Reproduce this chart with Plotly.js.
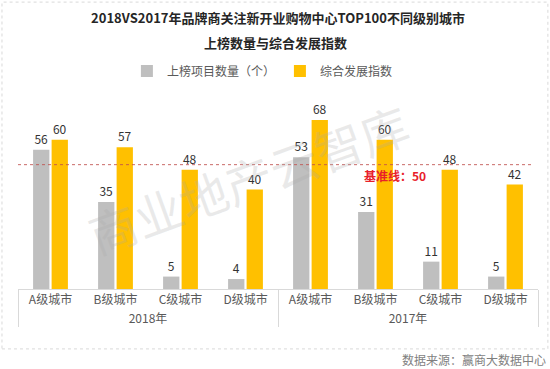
<!DOCTYPE html>
<html>
<head>
<meta charset="utf-8">
<script src="https://cdn.plot.ly/plotly-3.0.1.min.js"></script>
<style>
html,body{margin:0;padding:0;background:#fff;}
#chart{width:550px;height:369px;}
</style>
</head>
<body>
<div id="chart"></div>
<script>
const years = ["2018年","2018年","2018年","2018年","2017年","2017年","2017年","2017年"];
const cities = ["A级城市","B级城市","C级城市","D级城市","A级城市","B级城市","C级城市","D级城市"];
const projectCount = [56, 35, 5, 4, 53, 31, 11, 5];
const devIndex = [60, 57, 48, 40, 68, 60, 48, 42];
const baselineValue = 50;
const seriesNames = ["上榜项目数量（个）", "综合发展指数"];
const titleLines = ["2018VS2017年品牌商关注新开业购物中心TOP100不同级别城市", "上榜数量与综合发展指数"];

const font = "'Noto Sans CJK SC', 'Noto Sans', sans-serif";

const traces = [
  {
    type: 'bar', name: seriesNames[0], x: [years, cities], y: projectCount,
    marker: {color: '#BFBFBF'},
    text: projectCount.map(String), textposition: 'outside',
    textfont: {size: 12, color: '#333333', family: font},
    cliponaxis: false
  },
  {
    type: 'bar', name: seriesNames[1], x: [years, cities], y: devIndex,
    marker: {color: '#FFC000'},
    text: devIndex.map(String), textposition: 'outside',
    textfont: {size: 12, color: '#333333', family: font},
    cliponaxis: false
  }
];

const layout = {
  width: 550, height: 369,
  margin: {l: 18, r: 12, t: 100, b: 80},
  paper_bgcolor: '#ffffff', plot_bgcolor: '#ffffff',
  font: {family: font, color: '#595959', size: 12},
  title: {
    text: '<b>' + titleLines[0] + '</b>',
    font: {size: 13, color: '#262626', family: font},
    x: 0.5, xanchor: 'center', xref: 'paper', y: 1 - 18/369, yanchor: 'middle'
  },
  barmode: 'group', bargap: 0.43, bargroupgap: 0.12,
  showlegend: true,
  legend: {orientation: 'h', x: 0.47, xanchor: 'center', y: 1.153, yanchor: 'middle',
           font: {size: 12, color: '#595959'}, itemwidth: 30},
  xaxis: {
    type: 'multicategory', showline: true, linecolor: '#D9D9D9', linewidth: 1,
    showgrid: false, ticks: 'outside', ticklen: 8, tickcolor: 'rgba(0,0,0,0)',
    dividercolor: '#D9D9D9', dividerwidth: 1,
    tickfont: {size: 12, color: '#595959'}
  },
  yaxis: {range: [0, 76], visible: false, showgrid: false, zeroline: false},
  shapes: [
    {type: 'line', xref: 'paper', yref: 'y', x0: 0, x1: 0.99, y0: baselineValue, y1: baselineValue,
     line: {color: 'rgba(192,80,77,0.85)', width: 1, dash: 'dot'}},
    {type: 'rect', xref: 'paper', yref: 'paper', x0: -0.0308, x1: 1.019, y0: -0.317, y1: 1.518,
     line: {color: '#D9D9D9', width: 1, dash: 'dot'}, layer: 'below'}
  ],
  annotations: [
    {text: '<b>' + titleLines[1] + '</b>', xref: 'paper', yref: 'paper', x: (275-18)/520, y: (289-43)/189,
     xanchor: 'center', yanchor: 'middle', showarrow: false, font: {size: 13, color: '#262626'}},
    {text: '商业地产云智库', xref: 'paper', yref: 'paper', x: (248-18)/520, y: (289-178)/189,
     xanchor: 'center', yanchor: 'middle',
     showarrow: false, textangle: -20, font: {size: 48, color: 'rgba(170,170,170,0.25)', family: "'Noto Sans CJK SC'"}},
    {text: '<b>基准线：' + baselineValue + '</b>', xref: 'paper', yref: 'y', x: (395-18)/520, y: 45.6,
     xanchor: 'center', yanchor: 'middle', showarrow: false, font: {size: 12, color: '#E8202A'}},
    {text: '数据来源：赢商大数据中心', xref: 'paper', yref: 'paper', x: 1.019, xanchor: 'right',
     y: (289-359)/189, yanchor: 'middle', showarrow: false, font: {size: 12, color: '#7F7F7F'}}
  ]
};

Plotly.newPlot('chart', traces, layout, {displayModeBar: false, staticPlot: true});
</script>
</body>
</html>
